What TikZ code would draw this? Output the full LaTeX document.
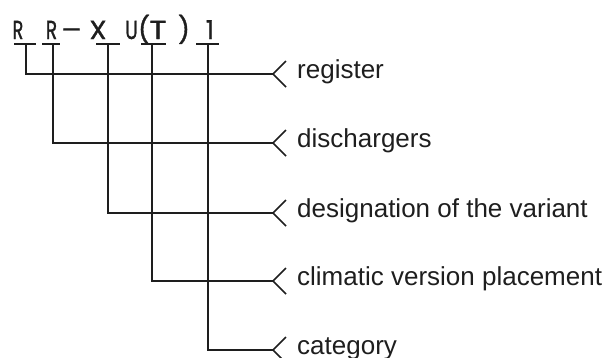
\documentclass[tikz,border=0pt]{standalone}
\usepackage{fontspec}
\setmainfont{Liberation Sans}
\newfontfamily\ttlfamily[FakeBold=1.3]{Poppins}
\definecolor{ink}{HTML}{1E1E1E}
\newcommand{\xsc}[2]{\scalebox{#1}[1]{\ttlfamily\fontsize{26}{30}\selectfont #2}}
\begin{document}
\begin{tikzpicture}[x=1pt,y=-1pt,
  ln/.style={draw=ink, line width=1.6pt},
  lbl/.style={anchor=base west, inner sep=0pt, font=\fontsize{26}{30}\selectfont, text=ink},
  ttl/.style={anchor=base, inner sep=0pt, text=ink}]
\useasboundingbox (0,0) rectangle (616,357);
% title characters
\node[ttl] (cR1) at (18,39) {\xsc{0.68}{R}};
\node[ttl] (cR2) at (51.5,39) {\xsc{0.72}{R}};
\node[ttl] (cD)  at (71.5,39) {\xsc{1.15}{–}};
\node[ttl] (cX)  at (98,39) {\xsc{1.05}{X}};
\node[ttl] (cU)  at (131.5,39) {\xsc{0.72}{U}};
\node[ttl] (cL)  at (144,39) {\xsc{1}{(}};
\node[ttl] (cT)  at (158,39) {\xsc{1.2}{T}};
\node[ttl] (cRp) at (184,39) {\xsc{1}{)}};
\node[ttl] (c1)  at (210,39) {\xsc{1}{1}};
% branches: index / bar left / bar right / vertical x / line y / label
\foreach \i/\bl/\br/\vx/\ly/\txt in {
  1/14/36/26/74/register,
  2/42/60/53/143/dischargers,
  3/96/120/108/213/designation of the variant,
  4/141/166/152/281/climatic version placement,
  5/196/219/208/350/category}{
  \coordinate (bl\i) at (\bl,44);
  \coordinate (br\i) at (\br,44);
  \coordinate (top\i) at (\vx,44);
  \coordinate (corner\i) at (\vx,\ly);
  \coordinate (tip\i) at (273,\ly);
  \coordinate (armA\i) at (286,\ly-13);
  \coordinate (armB\i) at (286,\ly+13);
  \node[lbl] (lab\i) at (297,\ly+4) {\txt};
  \draw[ln] (bl\i) -- (br\i);
  \draw[ln] (top\i) -- (corner\i) -- (tip\i);
  \draw[ln] (armA\i) -- (tip\i) -- (armB\i);
}
\end{tikzpicture}
\end{document}
